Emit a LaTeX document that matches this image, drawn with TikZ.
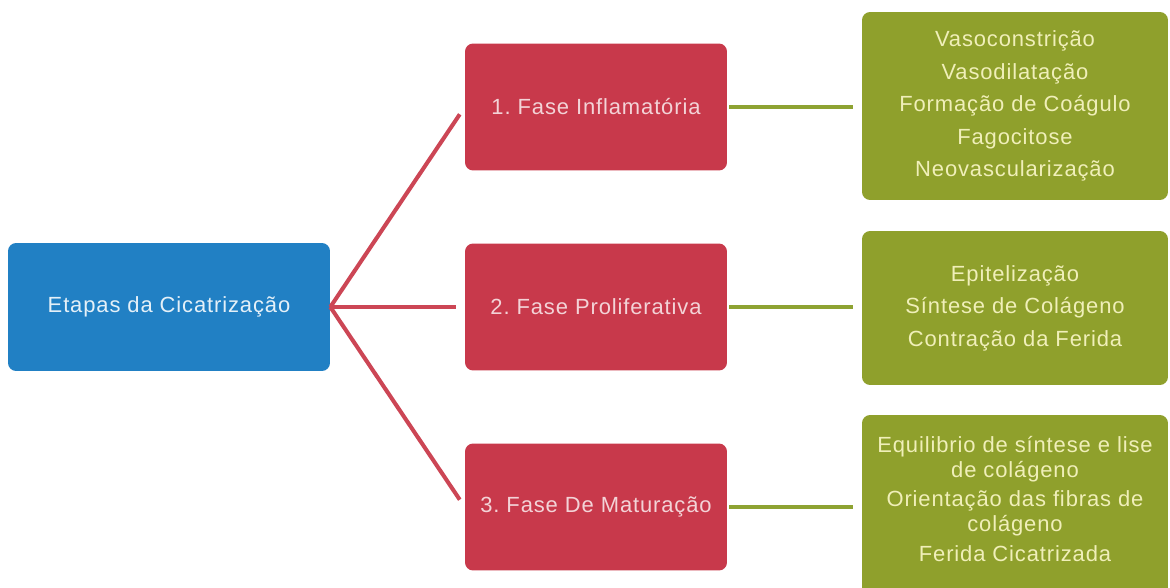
\documentclass[tikz,border=0pt]{standalone}
\usepackage{fontspec}
\setmainfont{Liberation Sans}[LetterSpace=4]
\usepackage{xcolor}
\usepackage{tikz}
\definecolor{etapaBlue}{HTML}{2180C4}
\definecolor{faseRed}{HTML}{C8394B}
\definecolor{itemGreen}{HTML}{8FA02C}
\definecolor{lineRed}{HTML}{CC4655}
\definecolor{lineGreen}{HTML}{8EA332}
\frenchspacing

\begin{document}
\begin{tikzpicture}[x=0.02cm,y=-0.02cm,
  font={\fontsize{12.5}{18.5}\selectfont},
  box/.style={rounded corners=0.16cm,inner sep=0pt,align=center},
  root/.style={box,fill=etapaBlue,text=white!88!etapaBlue,minimum width=6.44cm,minimum height=2.56cm},
  fase/.style={box,fill=faseRed,text=white!78!faseRed,minimum width=5.24cm,minimum height=2.54cm},
  itens/.style={box,fill=itemGreen,text=white!80!yellow!85!itemGreen,minimum width=6.12cm},
  redline/.style={draw=lineRed,line width=2.3pt,shorten >=5pt},
  greenline/.style={draw=lineGreen,line width=2.3pt,shorten <=1pt,shorten >=5pt}]
  \useasboundingbox (0,0) rectangle (1170,588);
  % caixa principal
  \node[root] (etapas) at (169,307) {Etapas da Cicatriza\c{c}\~ao};
  % fases
  \node[fase] (f1) at (596,107) {1. Fase Inflamat\'oria};
  \node[fase] (f2) at (596,307) {2. Fase Proliferativa};
  \node[fase] (f3) at (596,507) {3. Fase De Matura\c{c}\~ao};
  % itens de cada fase
  \node[itens,minimum height=3.76cm] (i1) at (1015,106)
    {Vasoconstri\c{c}\~ao\\Vasodilata\c{c}\~ao\\Forma\c{c}\~ao de Co\'agulo\\Fagocitose\\Neovasculariza\c{c}\~ao};
  \node[itens,minimum height=3.08cm] (i2) at (1015,308)
    {Epiteliza\c{c}\~ao\\S\'intese de Col\'ageno\\Contra\c{c}\~ao da Ferida};
  \node[itens,minimum height=3.6cm] (i3) at (1015,505) {};
  \node[align=center,font={\fontsize{12.5}{14}\selectfont},text=white!80!yellow!85!itemGreen]
    (i3txt) at (1015,499)
    {Equilibrio de s\'intese e lise\\de col\'ageno\\[3pt]Orienta\c{c}\~ao das fibras de\\col\'ageno\\[3pt]Ferida Cicatrizada};
  % ligacoes
  \foreach \f in {f1,f2,f3}
    \draw[redline] (etapas.east) -- (\f.west);
  \draw[greenline] (f1.east) -- (i1.west |- f1.east);
  \draw[greenline] (f2.east) -- (i2.west |- f2.east);
  \draw[greenline] (f3.east) -- (i3.west |- f3.east);
\end{tikzpicture}
\end{document}
